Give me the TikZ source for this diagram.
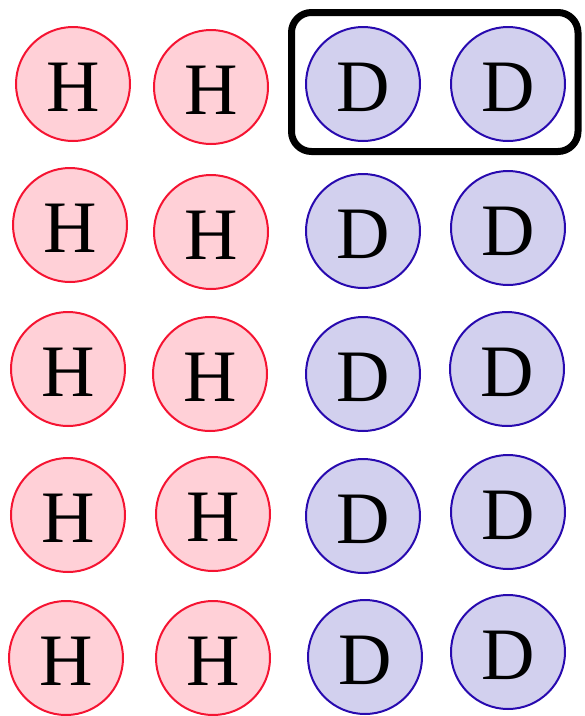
\documentclass[tikz,border=0pt]{standalone}
\usepackage{fontspec}
\setmainfont{Liberation Serif}
\usepackage{tikz}
\definecolor{HRed}{RGB}{245,20,50}
\definecolor{HPink}{RGB}{255,208,215}
\definecolor{DBlue}{RGB}{40,10,175}
\definecolor{DLilac}{RGB}{210,208,238}

\begin{document}
\begin{tikzpicture}[x=1pt, y=-1pt,
      atom/.style={circle, minimum size=114pt, inner sep=0pt, line width=2pt,
                   text height=55pt, text depth=0pt,
                   font=\fontsize{74}{80}\selectfont},
      hatom/.style={atom, draw=HRed, fill=HPink},
      datom/.style={atom, draw=DBlue, fill=DLilac},
      pairbox/.style={draw=black, line width=7pt, rounded corners=20pt}
    ]
    \useasboundingbox (0,0) rectangle (585,716);

    % hydrogen, two columns
    \foreach \n/\x/\y in {11/73/84, 21/70/225, 31/68/369, 41/68/515, 51/66/658}{
      \node[hatom] (h\n) at (\x,\y) {H};
    }
    \foreach \n/\x/\y in {12/211/87, 22/211/232, 32/210/374, 42/213/514, 52/213/658}{
      \node[hatom] (h\n) at (\x,\y) {H};
    }

    % deuterium, two columns
    \foreach \n/\x/\y in {13/363/84, 23/363/231, 33/363/374, 43/363/516, 53/365/657}{
      \node[datom] (d\n) at (\x,\y) {D};
    }
    \foreach \n/\x/\y in {14/508/84, 24/508/228, 34/507/369, 44/508/512, 54/508/652}{
      \node[datom] (d\n) at (\x,\y) {D};
    }

    \draw[pairbox] (291.5,12.5) rectangle (578,151.5);
  \end{tikzpicture}
\end{document}
